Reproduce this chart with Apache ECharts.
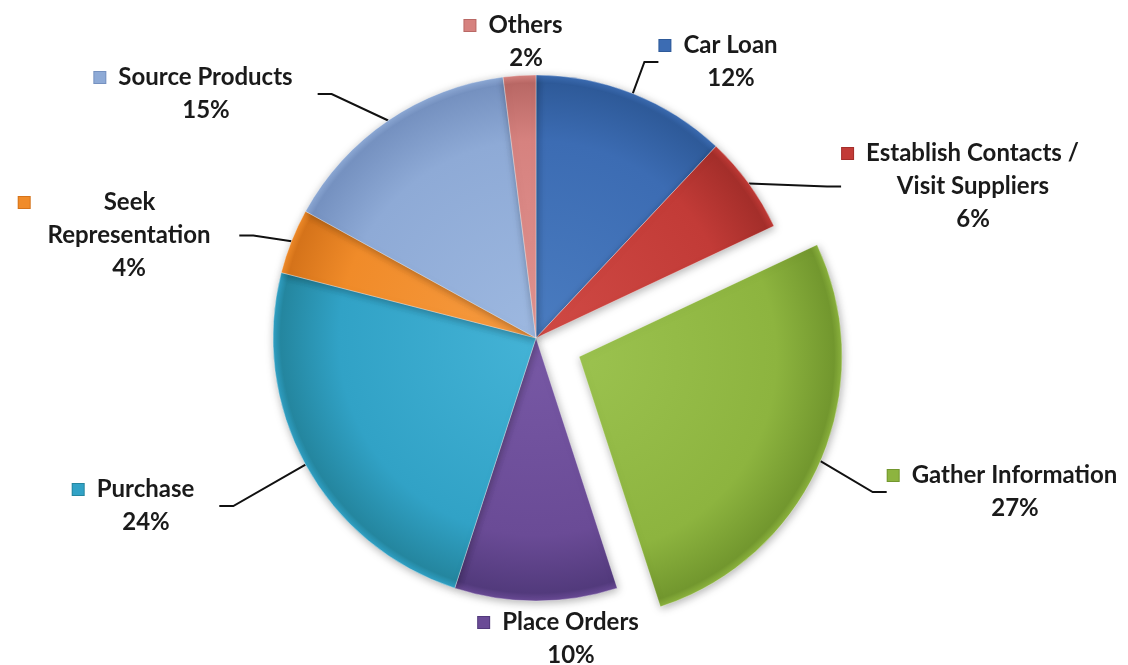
<!DOCTYPE html>
<html>
<head>
<meta charset="utf-8">
<script src="https://cdn.jsdelivr.net/npm/echarts@6/dist/echarts.min.js"></script>
<style>html,body{margin:0;padding:0;background:#fff;}#c{width:1128px;height:665px;}</style>
</head>
<body>
<div id="c"></div>
<script>
// ---- data ----
const categories = ['Car Loan', 'Establish Contacts /\nVisit Suppliers', 'Gather Information', 'Place Orders', 'Purchase', 'Seek\nRepresentation', 'Source Products', 'Others'];
const values = [12, 6, 27, 10, 24, 4, 15, 2];
const explodedIndex = 2;

// ---- style ----
const baseColors = ['#3c6cb3', '#c23b37', '#8db43f', '#6a4b96', '#31a2c6', '#f08b29', '#8eaad6', '#d6827f'];
const lightColors = ['#4a7cc0', '#d04a45', '#9bc24f', '#7859a6', '#44b3d6', '#f79c42', '#9db8e0', '#e29491'];
const darkColors = ['#2e5a99', '#a42e2a', '#72972e', '#523a7c', '#24869f', '#d5731a', '#7591c0', '#b96865'];
const labelPos = [[731, 29], [973, 137], [1015, 459], [571, 606], [146, 473], [129, 186], [206, 61], [526, 9]];
const showLine = [true, true, true, false, true, true, true, false];
const CX = 536, CY = 338, R = 263, EXPLODE = 47;

const rich = {
  b: { fontFamily: 'Lato', fontSize: 24, fontWeight: 'bold', color: '#1a1a1a', lineHeight: 33 },
  g: { width: 13 },
  g2: { width: 25 },
  gs1: { width: 74 },
  gs2: { width: 84 }
};
baseColors.forEach((c, i) => {
  rich['sq' + i] = { width: 11, height: 11, backgroundColor: c, borderColor: darkColors[i], borderWidth: 1 };
});

function fmt(p) {
  const i = p.dataIndex;
  const lines = categories[i].split('\n');
  let s;
  if (i === 5) {
    s = '{sq' + i + '|}{gs1|}{b|' + lines[0] + '}{gs2|}';
  } else {
    s = '{sq' + i + '|}{g|}{b|' + lines[0] + '}{g2|}';
  }
  for (let k = 1; k < lines.length; k++) s += '\n{b|' + lines[k] + '}';
  s += '\n{b|' + p.value + '%}';
  return s;
}

function fill(i, cx, cy) {
  return {
    type: 'radial', x: cx, y: cy, r: R, global: true,
    colorStops: [
      { offset: 0, color: lightColors[i] },
      { offset: 0.75, color: baseColors[i] },
      { offset: 0.97, color: darkColors[i] },
      { offset: 1, color: baseColors[i] }
    ]
  };
}

// mid angle of exploded slice (clockwise from 12 o'clock)
const total = values.reduce((a, b) => a + b, 0);
let before = 0;
for (let k = 0; k < explodedIndex; k++) before += values[k];
const midA = (before + values[explodedIndex] / 2) / total * 2 * Math.PI;
const ECX = CX + Math.sin(midA) * EXPLODE;
const ECY = CY - Math.cos(midA) * EXPLODE;

const hidden = {
  itemStyle: { color: 'rgba(0,0,0,0)', borderWidth: 0, shadowBlur: 0, shadowColor: 'rgba(0,0,0,0)' },
  label: { show: false },
  labelLine: { show: false }
};

const mainData = categories.map((name, i) => i === explodedIndex
  ? Object.assign({ name: name, value: values[i] }, hidden)
  : { name: name, value: values[i], labelLine: { show: showLine[i] }, itemStyle: { color: fill(i, CX, CY) } });

const explodedData = categories.map((name, i) => i === explodedIndex
  ? { name: name, value: values[i], labelLine: { show: showLine[i] }, itemStyle: { color: fill(i, ECX, ECY) } }
  : Object.assign({ name: name, value: values[i] }, hidden));

const common = {
  type: 'pie',
  radius: R,
  startAngle: 90,
  clockwise: true,
  avoidLabelOverlap: false,
  silent: true,
  emphasis: { disabled: true },
  itemStyle: {
    borderColor: 'rgba(255,255,255,0.35)',
    borderWidth: 1,
    shadowBlur: 8,
    shadowColor: 'rgba(0,0,0,0.3)',
    shadowOffsetX: 1,
    shadowOffsetY: 2
  },
  label: {
    show: true,
    position: 'outside',
    formatter: fmt,
    rich: rich,
    align: 'center',
    lineHeight: 33
  },
  labelLine: {
    show: true,
    length: 10,
    length2: 14,
    lineStyle: { color: '#111', width: 2 }
  },
  labelLayout: function (params) {
    const p = labelPos[params.dataIndex];
    return { x: p[0], y: p[1], align: 'center', verticalAlign: 'top' };
  }
};

const chart = echarts.init(document.getElementById('c'));
chart.setOption({
  animation: false,
  backgroundColor: '#ffffff',
  series: [
    Object.assign({}, common, { center: [CX, CY], data: mainData }),
    Object.assign({}, common, { center: [ECX, ECY], data: explodedData })
  ]
});
</script>
</body>
</html>
